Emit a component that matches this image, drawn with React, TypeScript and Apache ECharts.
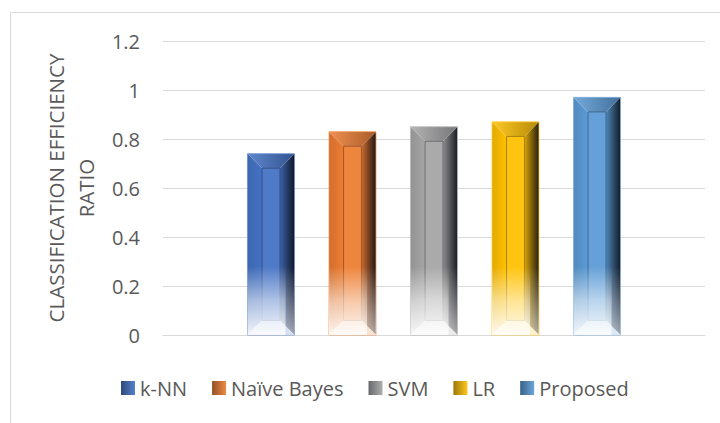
import React, { useEffect, useRef } from "react";
import * as echarts from "echarts";

const categories = [""];
const methods = ["k-NN", "Naïve Bayes", "SVM", "LR", "Proposed"];
const ratios = [0.74, 0.83, 0.85, 0.87, 0.97];
const colors = ["#4472C4", "#ED7D31", "#A5A5A5", "#FFC000", "#5B9BD5"];
const yTicks = { min: 0, max: 1.2, interval: 0.2 };

function mix(hex: string, target: number[], t: number): string {
  const r = parseInt(hex.slice(1, 3), 16);
  const g = parseInt(hex.slice(3, 5), 16);
  const b = parseInt(hex.slice(5, 7), 16);
  const c = [r, g, b].map((v, i) => Math.round(v + (target[i] - v) * t));
  return `rgb(${c[0]},${c[1]},${c[2]})`;
}
const lighten = (h: string, t: number) => mix(h, [255, 255, 255], t);
const darken = (h: string, t: number) => mix(h, [10, 12, 20], t);

function hGrad(a: string, b: string) {
  return new echarts.graphic.LinearGradient(0, 0, 1, 0, [
    { offset: 0, color: a },
    { offset: 1, color: b },
  ]);
}

export default function App() {
  const ref = useRef<HTMLDivElement>(null);
  useEffect(() => {
    if (!ref.current) return;
    const chart = echarts.init(ref.current, undefined, { renderer: "svg" });
    const n = methods.length;
    const series = methods.map((name, i) => ({
      name,
      type: "custom",
      itemStyle: { color: colors[i] },
      data: [[0, ratios[i]]],
      renderItem: (params: any, api: any) => {
        const c = colors[i];
        const idx = api.value(0);
        const val = api.value(1);
        const base = api.coord([idx, 0]);
        const top = api.coord([idx, val]);
        const band = api.size([1, 0])[0];
        const w = band * (47 / 542);
        const spacing = band * (81.5 / 542);
        const cx = base[0] + (i - (n - 1) / 2) * spacing;
        const x0 = cx - w / 2;
        const x1 = cx + w / 2;
        const yT = top[1];
        const yB = base[1];
        const h = yB - yT;
        const b = Math.min(w * 0.31, h / 2);
        const fadeH = Math.min(api.size([0, 0.28])[1], h);
        const children: any[] = [
          {
            type: "polygon",
            shape: { points: [[x0, yT], [x0 + b, yT + b], [x0 + b, yB - b], [x0, yB]] },
            style: { fill: hGrad(darken(c, 0.12), c) },
          },
          {
            type: "polygon",
            shape: { points: [[x1, yT], [x1 - b, yT + b], [x1 - b, yB - b], [x1, yB]] },
            style: { fill: hGrad(darken(c, 0.15), darken(c, 0.9)) },
          },
          {
            type: "polygon",
            shape: { points: [[x0, yT], [x1, yT], [x1 - b, yT + b], [x0 + b, yT + b]] },
            style: { fill: hGrad(lighten(c, 0.15), darken(c, 0.3)) },
          },
          {
            type: "polygon",
            shape: { points: [[x0, yB], [x1, yB], [x1 - b, yB - b], [x0 + b, yB - b]] },
            style: { fill: lighten(c, 0.5) },
          },
          {
            type: "rect",
            shape: { x: x0 + b, y: yT + b, width: w - 2 * b, height: h - 2 * b },
            style: { fill: lighten(c, 0.06), stroke: darken(c, 0.35), lineWidth: 1 },
          },
          {
            type: "rect",
            shape: { x: x0, y: yT, width: w, height: h },
            style: { fill: "none", stroke: lighten(c, 0.2), lineWidth: 0.8 },
          },
          {
            type: "rect",
            shape: { x: x0, y: yB - fadeH, width: w - b * 0.6, height: fadeH },
            style: {
              fill: new echarts.graphic.LinearGradient(0, 0, 0, 1, [
                { offset: 0, color: "rgba(255,255,255,0)" },
                { offset: 0.5, color: "rgba(255,255,255,0.55)" },
                { offset: 1, color: "rgba(255,255,255,0.93)" },
              ]),
            },
          },
          {
            type: "rect",
            shape: { x: x1 - b * 0.6, y: yB - fadeH, width: b * 0.6, height: fadeH },
            style: {
              fill: new echarts.graphic.LinearGradient(0, 0, 0, 1, [
                { offset: 0, color: "rgba(255,255,255,0)" },
                { offset: 1, color: "rgba(255,255,255,0.6)" },
              ]),
            },
          },
        ];
        return { type: "group", children };
      },
    }));

    chart.setOption({
      animation: false,
      textStyle: { fontFamily: "Open Sans" },
      graphic: [
        {
          type: "rect",
          shape: { x: 10.5, y: 12.5, width: 720, height: 430 },
          style: { fill: "none", stroke: "#d9d9d9", lineWidth: 1 },
          silent: true,
        },
      ],
      grid: { left: 163, right: 15, top: 41, bottom: 88 },
      legend: {
        left: 116,
        top: 373,
        icon: "rect",
        itemWidth: 14,
        itemHeight: 14,
        itemGap: 25,
        textStyle: { color: "#595959", fontSize: 20, fontFamily: "Open Sans" },
        data: methods.map((m, i) => ({
          name: m,
          itemStyle: { color: hGrad(darken(colors[i], 0.4), lighten(colors[i], 0.1)) },
        })),
      },
      xAxis: {
        type: "category",
        data: categories,
        axisTick: { show: false },
        axisLabel: { show: false },
        axisLine: { lineStyle: { color: "#d9d9d9", width: 1 } },
      },
      yAxis: {
        type: "value",
        min: yTicks.min,
        max: yTicks.max,
        interval: yTicks.interval,
        name: "CLASSIFICATION EFFICIENCY\nRATIO",
        nameLocation: "middle",
        nameRotate: 90,
        nameGap: 57,
        nameTextStyle: { color: "#595959", fontSize: 20.5, lineHeight: 30, fontFamily: "Open Sans" },
        axisLine: { show: false },
        axisTick: { show: false },
        axisLabel: { color: "#595959", fontSize: 20, margin: 23, fontFamily: "Open Sans" },
        splitLine: { lineStyle: { color: "#d9d9d9", width: 1 } },
      },
      series,
    });
    return () => chart.dispose();
  }, []);
  return (
    <div
      ref={ref}
      style={{ position: "fixed", left: 0, top: 0, width: 720, height: 423, background: "#fff" }}
    />
  );
}
